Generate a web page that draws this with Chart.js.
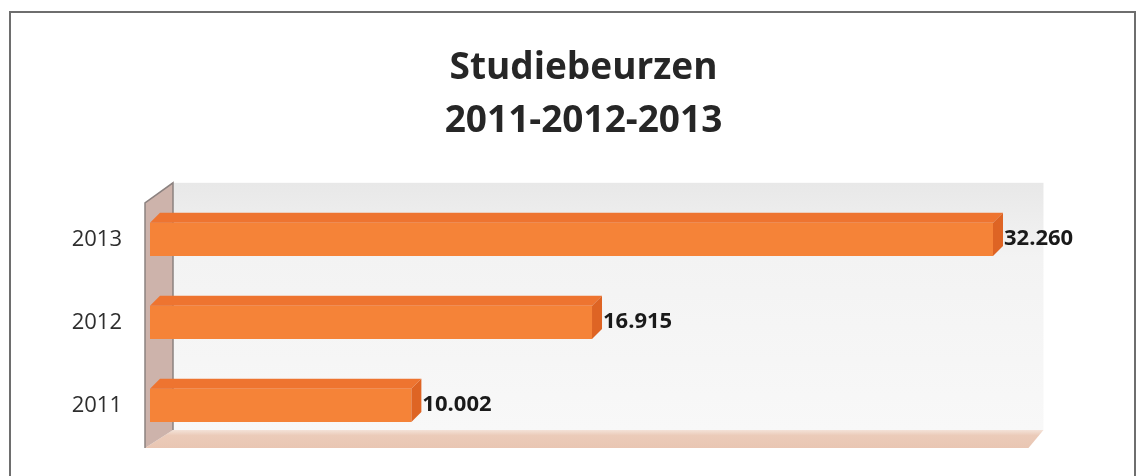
<!DOCTYPE html>
<html>
<head>
<meta charset="utf-8">
<script src="https://cdn.jsdelivr.net/npm/chart.js@4/dist/chart.umd.min.js"></script>
<style>
  html, body { margin: 0; padding: 0; background: #ffffff; }
  #wrap { width: 1143px; height: 476px; }
</style>
</head>
<body>
<div id="wrap"><canvas id="c" width="1143" height="476"></canvas></div>
<script>
const categories = ['2013', '2012', '2011'];
const values = [32260, 16915, 10002];
const valueLabels = ['32.260', '16.915', '10.002'];
const titleLines = ['Studiebeurzen', '2011-2012-2013'];

const DX = 10, DY = 10;

const decor = {
  id: 'decor',
  beforeDraw(chart) {
    const ctx = chart.ctx;
    const a = chart.chartArea;
    const L = a.left, T = a.top, B = a.bottom;
    const R = chart.scales.x.getPixelForValue(34000);
    ctx.save();
    ctx.fillStyle = '#ffffff';
    ctx.fillRect(0, 0, chart.width, chart.height);
    // outer frame
    ctx.strokeStyle = '#6e6e6e';
    ctx.lineWidth = 2;
    ctx.strokeRect(10, 12, 1125, 480);
    // back wall
    const g = ctx.createLinearGradient(0, T - 15, 0, B - 17);
    g.addColorStop(0, '#e8e8e8');
    g.addColorStop(0.3, '#f3f3f3');
    g.addColorStop(1, '#f8f8f8');
    ctx.fillStyle = g;
    ctx.fillRect(L + 23, T - 15, R - L - 18, B - T - 2);
    // floor
    ctx.beginPath();
    ctx.moveTo(L - 5, B + 1);
    ctx.lineTo(L + 23, B - 17);
    ctx.lineTo(R + 5, B - 17);
    ctx.lineTo(R - 10, B + 1);
    ctx.closePath();
    const fg = ctx.createLinearGradient(0, B - 17, 0, B + 1);
    fg.addColorStop(0, '#f3e2d8');
    fg.addColorStop(0.3, '#ebcbb9');
    fg.addColorStop(1, '#e9c6b3');
    ctx.fillStyle = fg;
    ctx.fill();
    // left wall
    ctx.beginPath();
    ctx.moveTo(L - 5, T + 5);
    ctx.lineTo(L + 23, T - 15);
    ctx.lineTo(L + 23, B - 17);
    ctx.lineTo(L - 5, B + 1);
    ctx.closePath();
    ctx.fillStyle = '#cdb3ab';
    ctx.fill();
    ctx.beginPath();
    ctx.moveTo(L - 5, B + 1);
    ctx.lineTo(L - 5, T + 5);
    ctx.lineTo(L + 23, T - 15);
    ctx.lineTo(L + 23, B - 17);
    ctx.strokeStyle = '#8c8280';
    ctx.lineWidth = 1.5;
    ctx.stroke();
    ctx.restore();
  },
  afterDatasetsDraw(chart) {
    const ctx = chart.ctx;
    const meta = chart.getDatasetMeta(0);
    ctx.save();
    meta.data.forEach((el, i) => {
      const p = el.getProps(['x', 'y', 'base', 'height'], true);
      const x0 = p.base, x1 = p.x;
      const yt = p.y - p.height / 2, yb = p.y + p.height / 2;
      // top face
      ctx.beginPath();
      ctx.moveTo(x0, yt);
      ctx.lineTo(x0 + DX, yt - DY);
      ctx.lineTo(x1 + DX, yt - DY);
      ctx.lineTo(x1, yt);
      ctx.closePath();
      ctx.fillStyle = '#ee7430';
      ctx.fill();
      // side face
      ctx.beginPath();
      ctx.moveTo(x1, yt);
      ctx.lineTo(x1 + DX, yt - DY);
      ctx.lineTo(x1 + DX, yb - DY);
      ctx.lineTo(x1, yb);
      ctx.closePath();
      ctx.fillStyle = '#de6424';
      ctx.fill();
      // value label
      ctx.fillStyle = '#1a1a1a';
      ctx.font = 'bold 22px "Open Sans"';
      ctx.textAlign = 'left';
      ctx.textBaseline = 'middle';
      ctx.fillText(valueLabels[i], x1 + DX + 1, p.y - 1);
    });
    ctx.restore();
  }
};

new Chart(document.getElementById('c'), {
  type: 'bar',
  data: {
    labels: categories,
    datasets: [{
      data: values,
      backgroundColor: '#f58338',
      borderWidth: 0,
      barPercentage: 0.4,
      categoryPercentage: 1
    }]
  },
  options: {
    indexAxis: 'y',
    responsive: false,
    animation: false,
    events: [],
    layout: { padding: { left: 24, right: 0, top: 0, bottom: 29 } },
    plugins: {
      legend: { display: false },
      tooltip: { enabled: false },
      title: {
        display: true,
        text: titleLines,
        color: '#262626',
        font: { family: '"Open Sans"', size: 37, weight: 'bold', lineHeight: 1.43 },
        padding: { top: 42, bottom: 50 }
      }
    },
    scales: {
      x: { display: false, min: 0, max: 38000 },
      y: {
        grid: { display: false, drawTicks: true, tickLength: 28 },
        border: { display: false },
        afterFit(s) { s.width = 126; },
        ticks: {
          color: '#2e2e2e',
          padding: 0,
          font: { family: '"Open Sans"', size: 22 }
        }
      }
    }
  },
  plugins: [decor]
});
</script>
</body>
</html>
